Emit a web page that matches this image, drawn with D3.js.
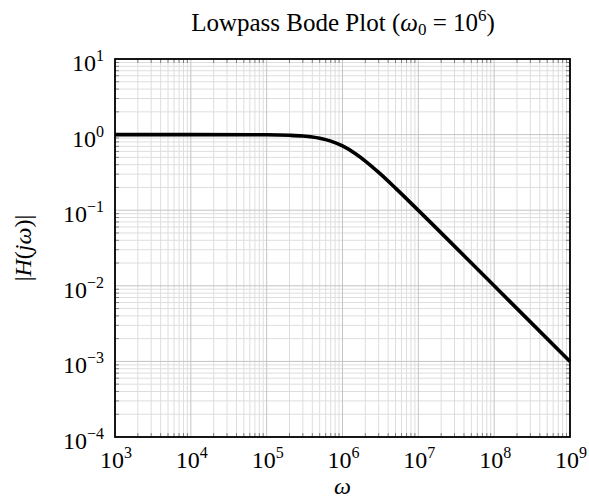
<!DOCTYPE html>
<html>
<head>
<meta charset="utf-8">
<script src="https://cdn.jsdelivr.net/npm/d3@7.9.0/dist/d3.min.js"></script>
<style>
  body { margin: 0; background: #fff; }
  svg { display: block; font-family: "Liberation Serif", "DejaVu Serif", serif; }
</style>
</head>
<body>
<svg id="chart" width="589" height="498"></svg>
<script>
// --- data ---
const omega = [1e3, 1e4, 1e5, 2e5, 3e5, 4e5, 5e5, 7e5, 1e6, 1.5e6, 2e6, 3e6, 5e6, 1e7, 1e8, 1e9];
const magnitude = [1, 1, 0.995, 0.98, 0.958, 0.928, 0.894, 0.819, 0.707, 0.555, 0.447, 0.316, 0.196, 0.0995, 0.01, 0.001];
const xTickExps = [3, 4, 5, 6, 7, 8, 9];
const yTickExps = [-4, -3, -2, -1, 0, 1];

// --- layout ---
const W = 589, H = 498;
const m = { left: 115, right: 19, top: 59, bottom: 61 };
const svg = d3.select('#chart');

const x = d3.scaleLog().domain([1e3, 1e9]).range([m.left, W - m.right]);
const y = d3.scaleLog().domain([1e-4, 1e1]).range([H - m.bottom, m.top]);

// minor + major values
function logTicks(lo, hi) {
  const minor = [], major = [];
  for (let e = lo; e < hi; e++) {
    major.push(Math.pow(10, e));
    for (let k = 2; k <= 9; k++) minor.push(k * Math.pow(10, e));
  }
  major.push(Math.pow(10, hi));
  return { minor, major };
}
const xt = logTicks(3, 9);
const yt = logTicks(-4, 1);

// minor grid
const grid = svg.append('g').attr('stroke', '#dedede').attr('stroke-width', 1);
grid.selectAll('.vx').data(xt.minor).join('line')
  .attr('x1', d => x(d)).attr('x2', d => x(d))
  .attr('y1', m.top).attr('y2', H - m.bottom);
grid.selectAll('.hy').data(yt.minor).join('line')
  .attr('y1', d => y(d)).attr('y2', d => y(d))
  .attr('x1', m.left).attr('x2', W - m.right);
// major grid
const major = svg.append('g').attr('stroke', '#c4c4c4').attr('stroke-width', 1);
major.selectAll('.vx').data(xt.major).join('line')
  .attr('x1', d => x(d)).attr('x2', d => x(d))
  .attr('y1', m.top).attr('y2', H - m.bottom);
major.selectAll('.hy').data(yt.major).join('line')
  .attr('y1', d => y(d)).attr('y2', d => y(d))
  .attr('x1', m.left).attr('x2', W - m.right);

// inward tick marks
const tk = svg.append('g').attr('stroke', '#666').attr('stroke-width', 0.8);
xt.minor.forEach(v => {
  tk.append('line').attr('x1', x(v)).attr('x2', x(v)).attr('y1', H - m.bottom).attr('y2', H - m.bottom - 4);
  tk.append('line').attr('x1', x(v)).attr('x2', x(v)).attr('y1', m.top).attr('y2', m.top + 4);
});
yt.minor.forEach(v => {
  tk.append('line').attr('y1', y(v)).attr('y2', y(v)).attr('x1', m.left).attr('x2', m.left + 4);
  tk.append('line').attr('y1', y(v)).attr('y2', y(v)).attr('x1', W - m.right).attr('x2', W - m.right - 4);
});

// curve
const pts = omega.map((w, i) => [w, magnitude[i]]);
const line = d3.line().x(d => x(d[0])).y(d => y(d[1])).curve(d3.curveMonotoneX);
svg.append('path').datum(pts)
  .attr('d', line)
  .attr('fill', 'none').attr('stroke', '#000').attr('stroke-width', 3.6)
  .attr('stroke-linejoin', 'round');

// frame
svg.append('rect')
  .attr('x', m.left).attr('y', m.top)
  .attr('width', W - m.left - m.right).attr('height', H - m.top - m.bottom)
  .attr('fill', 'none').attr('stroke', '#000').attr('stroke-width', 1.8);

// tick labels
function powLabel(g, e) {
  g.append('tspan').text('10');
  g.append('tspan').attr('dy', -10).attr('font-size', 16).text(e < 0 ? '\u2212' + (-e) : e);
}
xTickExps.forEach(e => {
  const t = svg.append('text')
    .attr('x', x(Math.pow(10, e)) + 1).attr('y', 468)
    .attr('text-anchor', 'middle').attr('font-size', 24);
  powLabel(t, e);
});
yTickExps.forEach(e => {
  const t = svg.append('text')
    .attr('x', m.left - 11).attr('y', y(Math.pow(10, e)) + 12)
    .attr('text-anchor', 'end').attr('font-size', 24);
  powLabel(t, e);
});

// title
const title = svg.append('text')
  .attr('x', 343).attr('y', 31)
  .attr('text-anchor', 'middle').attr('font-size', 25);
title.append('tspan').text('Lowpass Bode Plot (');
title.append('tspan').attr('font-style', 'italic').text('\u03C9');
title.append('tspan').attr('font-size', 17).attr('dy', 4).text('0');
title.append('tspan').attr('dy', -4).text(' = 10');
title.append('tspan').attr('font-size', 17).attr('dy', -10).text('6');
title.append('tspan').attr('dy', 10).text(')');

// axis labels
svg.append('text')
  .attr('x', (m.left + W - m.right) / 2).attr('y', 494)
  .attr('text-anchor', 'middle').attr('font-size', 24).attr('font-style', 'italic')
  .text('\u03C9');

const yl = svg.append('text')
  .attr('transform', `translate(31,${(m.top + H - m.bottom) / 2}) rotate(-90)`)
  .attr('text-anchor', 'middle').attr('font-size', 24);
yl.append('tspan').text('|');
yl.append('tspan').attr('font-style', 'italic').text('H');
yl.append('tspan').text('(');
yl.append('tspan').attr('font-style', 'italic').text('j\u03C9');
yl.append('tspan').text(')|');
</script>
</body>
</html>
